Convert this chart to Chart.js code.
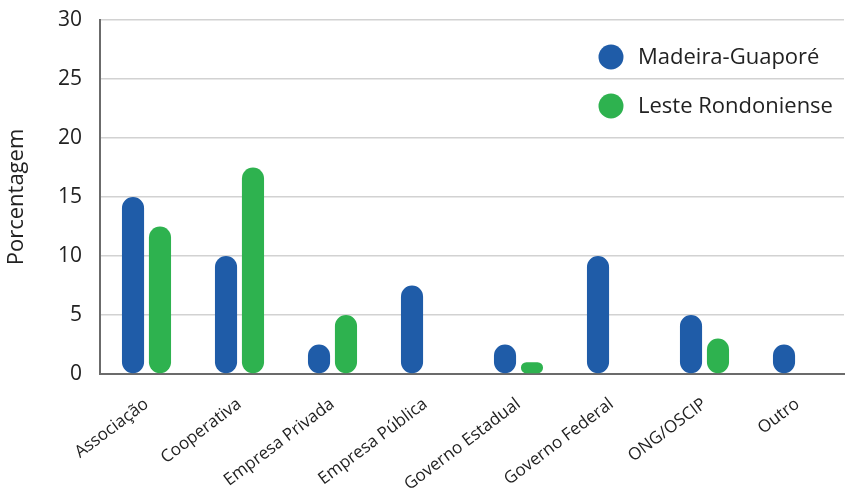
<!DOCTYPE html>
<html>
<head>
<meta charset="utf-8">
<script src="https://cdn.jsdelivr.net/npm/chart.js@4"></script>
<style>
  html, body { margin: 0; padding: 0; background: #fff; }
  #chart { display: block; }
</style>
</head>
<body>
<canvas id="chart" width="850" height="500"></canvas>
<script>
const categories = ["Associação", "Cooperativa", "Empresa Privada", "Empresa Pública",
  "Governo Estadual", "Governo Federal", "ONG/OSCIP", "Outro"];
const madeiraGuapore = [15, 10, 2.5, 7.5, 2.5, 10, 5, 2.5];
const lesteRondoniense = [12.5, 17.5, 5, 0, 1, 0, 3, 0];
const seriesNames = ["Madeira-Guaporé", "Leste Rondoniense"];
const seriesColors = ["#1f5ca8", "#2eb24f"];

const FONT = "'Open Sans', 'Liberation Sans', sans-serif";

// legend drawn inside the plot, top right, circle markers
const legendPlugin = {
  id: "pillLegend",
  afterDraw(chart) {
    const ctx = chart.ctx;
    const area = chart.chartArea;
    ctx.save();
    ctx.font = "22px " + FONT;
    ctx.textBaseline = "middle";
    seriesNames.forEach((name, i) => {
      const cx = area.right - 233;
      const cy = area.top + 37 + i * 49;
      ctx.beginPath();
      ctx.arc(cx, cy, 12.5, 0, Math.PI * 2);
      ctx.fillStyle = seriesColors[i];
      ctx.fill();
      ctx.fillStyle = "#222";
      ctx.fillText(name, cx + 27, cy + 1);
    });
    ctx.restore();
  }
};

new Chart(document.getElementById("chart"), {
  type: "bar",
  data: {
    labels: categories,
    datasets: [
      {
        label: seriesNames[0],
        data: madeiraGuapore,
        backgroundColor: seriesColors[0],
        borderRadius: 12,
        borderSkipped: false,
      },
      {
        label: seriesNames[1],
        data: lesteRondoniense,
        backgroundColor: seriesColors[1],
        borderRadius: 12,
        borderSkipped: false,
      },
    ],
  },
  options: {
    responsive: false,
    animation: false,
    categoryPercentage: 0.58,
    barPercentage: 0.82,
    layout: { padding: { top: 20, right: 6, left: 0, bottom: 0 } },
    plugins: { legend: { display: false }, tooltip: { enabled: false } },
    scales: {
      x: {
        grid: { display: false },
        border: { color: "#6b6b6b", width: 2 },
        ticks: {
          color: "#222",
          font: { family: FONT, size: 17 },
          minRotation: 37,
          maxRotation: 37,
          padding: 12,
        },
        afterFit(scale) { scale.height = 126; },
      },
      y: {
        min: 0,
        max: 30,
        ticks: {
          stepSize: 5,
          color: "#222",
          font: { family: FONT, size: 21 },
          padding: 6,
        },
        grid: {
          color: "#d2d2d2",
          lineWidth: 1.5,
          drawTicks: true,
          tickLength: 12,
          tickColor: "rgba(0,0,0,0)",
        },
        border: { color: "#6b6b6b", width: 2 },
        title: {
          display: true,
          text: "Porcentagem",
          color: "#222",
          font: { family: FONT, size: 22 },
          padding: { top: 4, bottom: 0 },
        },
        afterFit(scale) { scale.width = 100; },
      },
    },
  },
  plugins: [legendPlugin],
});
</script>
</body>
</html>
